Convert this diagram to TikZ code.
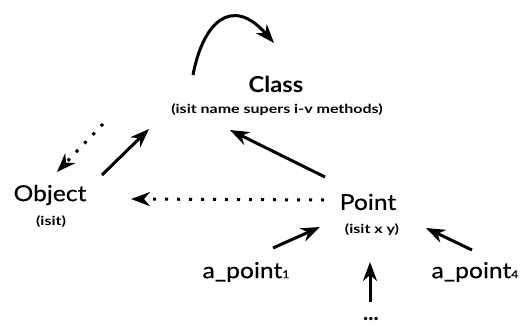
\documentclass[tikz,border=0pt]{standalone}
\usepackage{fontspec}
\setmainfont{Lato}
\newfontfamily\medfont[FakeBold=0.4,FakeStretch=1.12]{Lato}
\newfontfamily\boldfont{Lato}
\usetikzlibrary{arrows.meta}
\newcommand{\smalltxt}[1]{\scalebox{1.28}[1]{#1}}
\begin{document}
\begin{tikzpicture}[x=1pt,y=-1pt,
  big/.style={inner sep=0pt,font=\medfont\fontsize{22}{24}\selectfont},
  bigb/.style={inner sep=0pt,font=\boldfont\bfseries\fontsize{22}{24}\selectfont},
  small/.style={inner sep=0pt,font=\boldfont\bfseries\fontsize{12.5}{14}\selectfont},
  arr/.style={line width=3pt,-{Stealth[length=19pt,width=14pt,inset=6pt]}},
  darr/.style={line width=3pt,dash pattern=on 3pt off 9pt,-{Stealth[length=19pt,width=14pt,inset=6pt]}}]
\useasboundingbox (0,0) rectangle (527,324);
% labels
\node[bigb] (class) at (276,84) {\scalebox{1.08}[1]{Class}};
\node[small] (classf) at (277,110) {\smalltxt{(isit name supers i-v methods)}};
\node[big] (object) at (50,195) {Object};
\node[small] (objectf) at (51,222) {\smalltxt{(isit)}};
\node[big] (point) at (368,202) {Point};
\node[small] (pointf) at (372,230) {\smalltxt{(isit x y)}};
\node[big] (ap1) at (246,272) {a\_point{\fontsize{11}{12}\selectfont 1}};
\node[big] (ap4) at (475,272) {a\_point{\fontsize{11}{12}\selectfont 4}};
\node[bigb,anchor=base] (dots) at (371,320) {...};
% connector end points
\coordinate (cs) at (193,75);
\coordinate (ce) at (274,43);
\coordinate (od1) at (103,124);
\coordinate (od2) at (57,172);
\coordinate (oc1) at (102,175);
\coordinate (oc2) at (149,129);
\coordinate (pc1) at (325,177);
\coordinate (pc2) at (230,130);
\coordinate (po1) at (324,200);
\coordinate (po2) at (131,199);
\coordinate (a1a) at (273,248);
\coordinate (a1b) at (320,227);
\coordinate (dd1) at (370,302);
\coordinate (dd2) at (370,262);
\coordinate (a4a) at (472,250);
\coordinate (a4b) at (426,228);
% connectors
\draw[arr] (cs) .. controls (203,22) and (232,-5) .. (ce);
\draw[darr] (od1) -- (od2);
\draw[arr] (oc1) -- (oc2);
\draw[arr] (pc1) -- (pc2);
\draw[darr] (po1) -- (po2);
\draw[arr] (a1a) -- (a1b);
\draw[arr] (dd1) -- (dd2);
\draw[arr] (a4a) -- (a4b);
\end{tikzpicture}
\end{document}
